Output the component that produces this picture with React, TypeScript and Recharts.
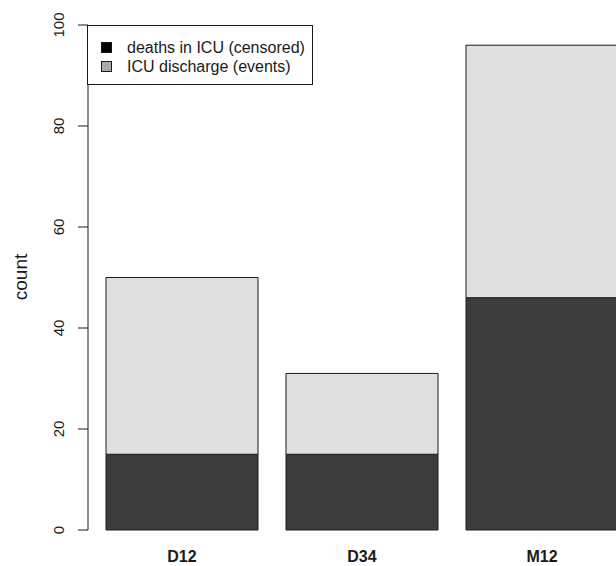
import { BarChart, Bar, XAxis, YAxis } from "recharts";

const groups = ["D12", "D34", "M12"];
const deaths = [15, 15, 46];
const discharge = [35, 16, 50];
const yTicks = [0, 20, 40, 60, 80, 100];
const seriesNames = ["deaths in ICU (censored)", "ICU discharge (events)"];

const data = groups.map((g, i) => ({ group: g, deaths: deaths[i], discharge: discharge[i] }));

const FONT = "'Liberation Sans', Arial, sans-serif";
const INK = "#1a1a1a";

function YTick({ y, payload }: { y?: number; payload?: { value: number } }) {
    return (
        <text
            x={64}
            y={y}
            transform={`rotate(-90, 64, ${y})`}
            textAnchor="middle"
            fontFamily={FONT}
            fontSize={15}
            fill={INK}
        >
            {payload?.value}
        </text>
    );
}

function XTick({ x, payload }: { x?: number; payload?: { value: string } }) {
    return (
        <text x={x} y={562} textAnchor="middle" fontFamily={FONT} fontSize={16} fontWeight="bold" fill={INK}>
            {payload?.value}
        </text>
    );
}

export default function App() {
    return (
        <div style={{ position: "relative", width: 616, height: 566, overflow: "hidden", background: "#fff" }}>
            <style>{"body{margin:0}"}</style>
            <BarChart width={640} height={566} data={data} margin={{ top: 25, right: 8, bottom: 0, left: 0 }}>
                <XAxis
                    dataKey="group"
                    height={36}
                    axisLine={false}
                    tickLine={false}
                    padding={{ left: 4, right: 0 }}
                    tick={<XTick />}
                    interval={0}
                />
                <YAxis
                    width={88}
                    domain={[0, 100]}
                    ticks={yTicks}
                    tickSize={10}
                    axisLine={{ stroke: INK, strokeWidth: 1 }}
                    tickLine={{ stroke: INK, strokeWidth: 1 }}
                    tick={<YTick />}
                    interval={0}
                />
                <Bar
                    dataKey="deaths"
                    name={seriesNames[0]}
                    stackId="a"
                    barSize={152}
                    fill="#3d3d3d"
                    stroke={INK}
                    strokeWidth={1}
                    isAnimationActive={false}
                />
                <Bar
                    dataKey="discharge"
                    name={seriesNames[1]}
                    stackId="a"
                    barSize={152}
                    fill="#e0e0e0"
                    stroke={INK}
                    strokeWidth={1}
                    isAnimationActive={false}
                />
            </BarChart>
            <svg width={34} height={566} style={{ position: "absolute", left: 0, top: 0 }}>
                <text
                    x={27}
                    y={277}
                    transform="rotate(-90, 27, 277)"
                    textAnchor="middle"
                    fontFamily={FONT}
                    fontSize={19}
                    fill={INK}
                >
                    count
                </text>
            </svg>
            <div
                style={{
                    position: "absolute",
                    left: 87,
                    top: 25,
                    width: 226,
                    height: 60,
                    border: `1px solid ${INK}`,
                    background: "#fff",
                    fontFamily: FONT,
                    fontSize: 16,
                    color: INK,
                    boxSizing: "border-box",
                    paddingTop: 12,
                }}
            >
                {seriesNames.map((name, i) => (
                    <div key={name} style={{ display: "flex", alignItems: "center", height: 19 }}>
                        <span
                            style={{
                                display: "inline-block",
                                width: 9,
                                height: 9,
                                marginLeft: 13,
                                marginRight: 15,
                                background: i === 0 ? "#000" : "#aaaaaa",
                                border: `1px solid ${INK}`,
                            }}
                        />
                        <span>{name}</span>
                    </div>
                ))}
            </div>
        </div>
    );
}
